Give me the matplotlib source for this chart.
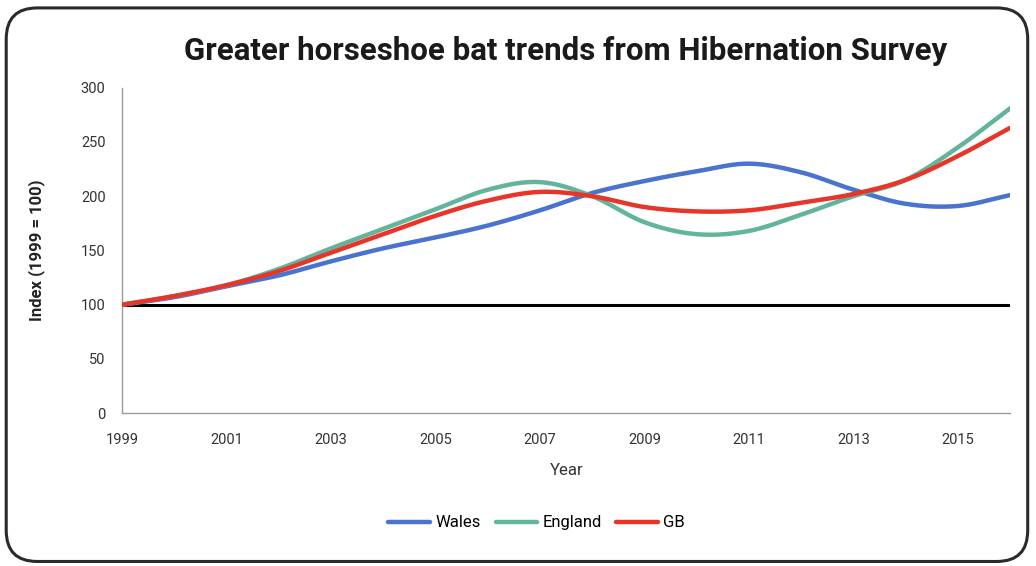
import numpy as np
import matplotlib
matplotlib.use("Agg")
import matplotlib.pyplot as plt
from matplotlib.patches import FancyBboxPatch

plt.rcParams['font.family'] = ['Roboto', 'DejaVu Sans']

years = list(range(1999, 2017))
wales = [100, 107, 117, 127, 140, 152, 162, 173, 187, 203, 214, 223, 230, 222, 206, 193, 191, 201]
england = [100, 108, 118, 133, 152, 170, 188, 206, 213, 200, 176, 165, 168, 183, 200, 215, 245, 281]
gb = [100, 108, 118, 131, 148, 165, 182, 196, 204, 200, 190, 186, 187, 194, 202, 215, 237, 263]

x_ticks = [1999, 2001, 2003, 2005, 2007, 2009, 2011, 2013, 2015]
y_ticks = [0, 50, 100, 150, 200, 250, 300]
baseline = 100


def smooth(xs, ys, steps=20):
    # Catmull-Rom curve through the yearly points (smoothed line style)
    xs = np.asarray(xs, float)
    ys = np.asarray(ys, float)
    px = np.concatenate([[2 * xs[0] - xs[1]], xs, [2 * xs[-1] - xs[-2]]])
    py = np.concatenate([[2 * ys[0] - ys[1]], ys, [2 * ys[-1] - ys[-2]]])
    t = np.linspace(0, 1, steps, endpoint=False)
    out_x, out_y = [], []
    for i in range(1, len(px) - 2):
        for p, out in ((px, out_x), (py, out_y)):
            p0, p1, p2, p3 = p[i - 1], p[i], p[i + 1], p[i + 2]
            out.extend(0.5 * (2 * p1 + (-p0 + p2) * t
                              + (2 * p0 - 5 * p1 + 4 * p2 - p3) * t ** 2
                              + (-p0 + 3 * p1 - 3 * p2 + p3) * t ** 3))
    out_x.append(xs[-1])
    out_y.append(ys[-1])
    return np.array(out_x), np.array(out_y)


fig = plt.figure(figsize=(10.36, 5.66), dpi=100)
ax = fig.add_axes([0.118, 0.27, 0.857, 0.575])

# rounded frame round the whole chart
frame = FancyBboxPatch((0.006, 0.008), 0.986, 0.978, boxstyle="round,pad=0,rounding_size=0.03",
                       transform=fig.transFigure, facecolor='none', edgecolor='#2a2a2a',
                       linewidth=2.2, mutation_aspect=1.83)
fig.patches.append(frame)

ax.axhline(baseline, color='black', linewidth=2.2, zorder=2)

series = [("Wales", wales, '#4a72cf'),
          ("England", england, '#62b59c'),
          ("GB", gb, '#e8352a')]
for name, vals, col in series:
    sx, sy = smooth(years, vals)
    ax.plot(sx, sy, color=col, linewidth=3.2, label=name, solid_capstyle='round', zorder=3)

ax.set_xlim(1999, 2016)
ax.set_ylim(0, 300)
ax.set_xticks(x_ticks)
ax.set_yticks(y_ticks)
ax.tick_params(axis='y', length=0, labelsize=10.5, labelcolor='#333333', pad=12)
ax.tick_params(axis='x', length=0, labelsize=10.5, labelcolor='#333333', pad=14)

for side in ('top', 'right'):
    ax.spines[side].set_visible(False)
for side in ('left', 'bottom'):
    ax.spines[side].set_color('#9a9a9a')
    ax.spines[side].set_linewidth(1)

ax.set_xlabel("Year", fontsize=12, color='#333333', labelpad=12)
ax.set_ylabel("Index (1999 = 100)", fontsize=12, color='#222222', labelpad=26, fontweight='bold')
ax.set_title("Greater horseshoe bat trends from Hibernation Survey", fontsize=22.5,
             fontweight='bold', color='#1a1a1a', pad=20)

fig.legend(loc='center', bbox_to_anchor=(0.518, 0.076), ncol=3, frameon=False,
           fontsize=12, handlelength=2.5, columnspacing=0.9, handletextpad=0.3)

fig.savefig("out.png", dpi=100, facecolor='white')
